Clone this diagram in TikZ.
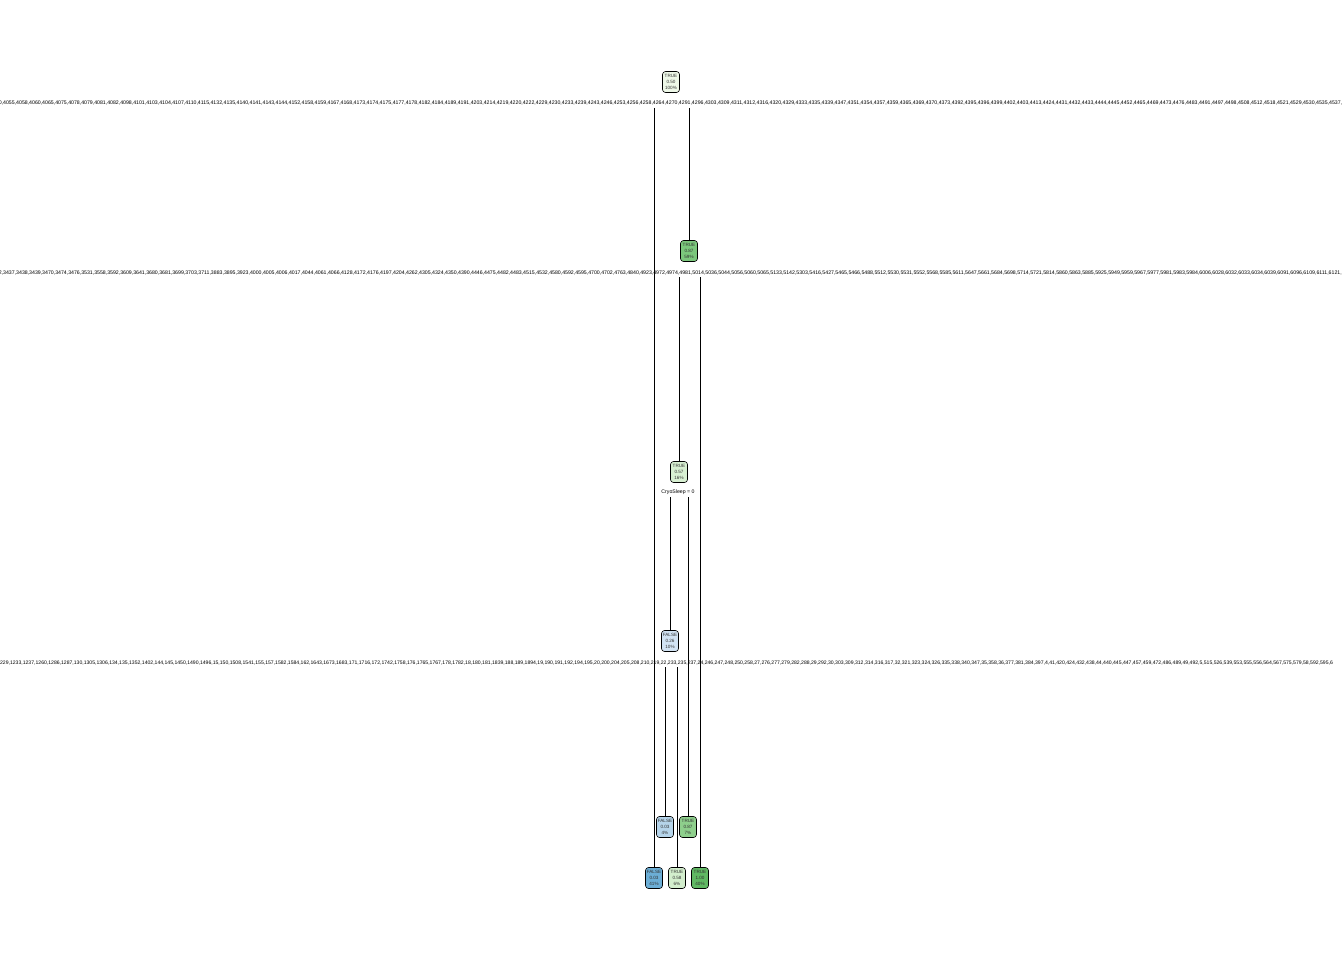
\documentclass[tikz,border=0pt]{standalone}
\usepackage{fontspec}
\setmainfont{Liberation Sans}
\definecolor{cRoot}{HTML}{EEF8E8}
\definecolor{cN2}{HTML}{7BC77C}
\definecolor{cN3}{HTML}{D8F0D2}
\definecolor{cN4}{HTML}{D2E3F3}
\definecolor{cL1}{HTML}{6CAED6}
\definecolor{cL2}{HTML}{B5D4EA}
\definecolor{cL3}{HTML}{D3EECD}
\definecolor{cL4}{HTML}{8ECF8C}
\definecolor{cL5}{HTML}{60B863}
\begin{document}
\begin{tikzpicture}[x=1pt,y=-1pt,
  tn/.style={draw=black, line width=0.6pt, rounded corners=3pt, minimum width=17pt, minimum height=21pt, inner sep=0.3pt, align=center, font=\fontsize{4.6}{6}\selectfont, text=black!80},
  lbl/.style={font=\fontsize{5.2}{6}\selectfont, inner sep=0pt, anchor=base west, text=black},
  clbl/.style={font=\fontsize{5.2}{6}\selectfont, inner sep=0.5pt, text=black},
  br/.style={line width=0.6pt, draw=black}]
\useasboundingbox (0,0) rectangle (1344,960);
% nodes
\node[tn, fill=cRoot] (n1) at (671,82) {TRUE\\0.50\\100\%};
\node[tn, fill=cN2] (n2) at (689,251) {TRUE\\0.87\\59\%};
\node[tn, fill=cN3] (n3) at (679,472) {TRUE\\0.57\\16\%};
\node[tn, fill=cN4] (n4) at (670,641) {FALSE\\0.26\\10\%};
\node[tn, fill=cL2] (l2) at (665,827) {FALSE\\0.03\\4\%};
\node[tn, fill=cL4] (l4) at (688,827) {TRUE\\0.87\\7\%};
\node[tn, fill=cL1] (l1) at (654,878) {FALSE\\0.03\\41\%};
\node[tn, fill=cL3] (l3) at (677,878) {TRUE\\0.58\\6\%};
\node[tn, fill=cL5] (l5) at (700,878) {TRUE\\1.00\\40\%};
% branch start points (below the split labels)
\coordinate (s1l) at (654,108);
\coordinate (s1r) at (689,108);
\coordinate (s2l) at (679,277);
\coordinate (s2r) at (700,277);
\coordinate (s3l) at (670,497);
\coordinate (s3r) at (688,497);
\coordinate (s4l) at (665,667);
\coordinate (s4r) at (677,667);
\draw[br] (s1l) -- (l1.north);
\draw[br] (s1r) -- (n2.north);
\draw[br] (s2l) -- (n3.north);
\draw[br] (s2r) -- (l5.north);
\draw[br] (s3l) -- (n4.north);
\draw[br] (s3r) -- (l4.north);
\draw[br] (s4l) -- (l2.north);
\draw[br] (s4r) -- (l3.north);
% split labels
\node[lbl] (t1) at (-10,105) {4050,4055,4058,4060,4065,4075,4078,4079,4081,4082,4098,4101,4103,4104,4107,4110,4115,4132,4135,4140,4141,4143,4144,4152,4158,4159,4167,4168,4173,4174,4175,4177,4178,4182,4184,4189,4191,4203,4214,4219,4220,4222,4229,4230,4233,4239,4243,4246,4253,4256,4258,4264,4270,4291,4296,4303,4309,4311,4312,4316,4320,4329,4333,4335,4339,4347,4351,4354,4357,4359,4365,4369,4370,4373,4392,4395,4396,4399,4402,4403,4413,4424,4431,4432,4433,4444,4445,4452,4465,4469,4473,4476,4483,4491,4497,4498,4508,4512,4518,4521,4529,4530,4535,4537,};
\node[lbl] (t2) at (-10,274) {3432,3437,3438,3439,3470,3474,3476,3531,3558,3592,3609,3641,3680,3681,3699,3703,3711,3883,3895,3923,4000,4005,4006,4017,4044,4061,4066,4128,4172,4176,4197,4204,4262,4305,4324,4350,4390,4446,4475,4482,4483,4515,4532,4580,4592,4595,4700,4702,4763,4840,4923,4972,4974,4981,5014,5036,5044,5056,5060,5065,5133,5142,5303,5416,5427,5465,5466,5488,5512,5530,5531,5552,5568,5585,5611,5647,5661,5684,5698,5714,5721,5814,5860,5863,5885,5925,5949,5959,5967,5977,5981,5983,5984,6006,6028,6032,6033,6034,6039,6091,6096,6109,6111,6121,};
\node[clbl] (t3) at (678,492) {CryoSleep = 0};
\node[lbl, font=\fontsize{5.1}{6}\selectfont] (t4) at (-2.9,664) {1229,1233,1237,1260,1286,1287,130,1305,1306,134,135,1352,1402,144,145,1450,1490,1496,15,150,1508,1541,155,157,1582,1584,162,1643,1673,1683,171,1716,172,1742,1758,176,1765,1767,178,1782,18,180,181,1839,188,189,1894,19,190,191,192,194,195,20,200,204,205,208,210,219,22,233,235,237,24,246,247,248,250,258,27,276,277,279,282,288,29,292,30,303,309,312,314,316,317,32,321,323,324,326,335,338,340,347,35,358,36,377,381,384,397,4,41,420,424,432,438,44,440,445,447,457,459,472,486,489,49,492,5,515,526,539,553,555,556,564,567,575,579,58,592,595,6};
\end{tikzpicture}
\end{document}
